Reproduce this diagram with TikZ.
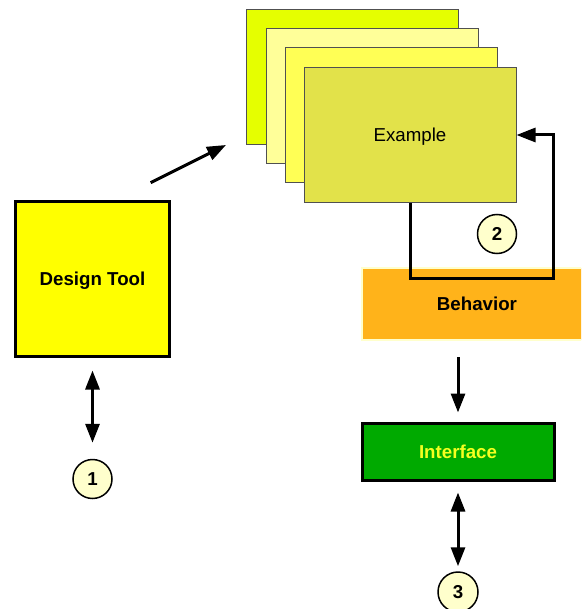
\documentclass[tikz,border=0pt]{standalone}
\usepackage{fontspec}
\setmainfont{Liberation Sans}
\usetikzlibrary{arrows.meta}

\definecolor{sheetA}{HTML}{E5FF00}
\definecolor{sheetB}{HTML}{FFFF99}
\definecolor{sheetC}{HTML}{FFFF55}
\definecolor{sheetD}{HTML}{E2E24A}
\definecolor{sheetline}{HTML}{505050}
\definecolor{toolfill}{HTML}{FFFF00}
\definecolor{behfill}{HTML}{FFB31A}
\definecolor{behline}{HTML}{FFFFCC}
\definecolor{ifcfill}{HTML}{00AA00}
\definecolor{ifctext}{HTML}{F4FF20}
\definecolor{markfill}{HTML}{FFFFCC}

\tikzset{
  lbl/.style={font=\fontsize{18.7}{22}\selectfont, text height=13.4pt, text depth=0pt},
  boldlbl/.style={lbl, font=\fontsize{18.7}{22}\selectfont\bfseries},
  sheet/.style={draw=sheetline, line width=1pt, minimum width=212pt, minimum height=135pt, inner sep=0pt, lbl},
  boldbox/.style={draw=black, line width=3pt, inner sep=0pt, boldlbl},
  marker/.style={circle, draw=black, line width=1.5pt, fill=markfill, inner sep=0pt, minimum size=39pt, boldlbl},
  tip/.style={Triangle[length=19pt,width=14pt]},
  conn/.style={line width=3pt, -{Triangle[length=19pt,width=14pt]}},
  biconn/.style={line width=3pt, {Triangle[length=19pt,width=14pt]}-{Triangle[length=19pt,width=14pt]}},
}

\begin{document}
\begin{tikzpicture}[x=1pt, y=-1pt]
\useasboundingbox (0,0) rectangle (581,609);
\clip (0,0) rectangle (581,609);

% stack of example sheets, back to front
\node[sheet, fill=sheetA] (s1) at (352,77.5) {};
\node[sheet, fill=sheetB] (s2) at (372,96.5) {};
\node[sheet, fill=sheetC] (s3) at (391,115.5) {};
\node[sheet, fill=sheetD] (s4) at (410,135) {Example};

% design tool
\node[boldbox, fill=toolfill, minimum width=154pt, minimum height=154pt] (dt) at (92.5,279) {Design Tool};

% behavior band (runs past the right edge)
\node[draw=behline, line width=2pt, fill=behfill, minimum width=233pt, minimum height=72pt, inner sep=0pt] (beh) at (478.5,304) {};
\node[boldlbl] (behtxt) at (477,304) {Behavior};

% interface
\node[boldbox, fill=ifcfill, text=ifctext, minimum width=192pt, minimum height=57pt] (ifc) at (458,451.5) {Interface};

% numbered markers
\node[marker] (c1) at (92.5,479) {1};
\node[marker] (c2) at (497,234) {2};
\node[marker, minimum size=40pt] (c3) at (458,592) {3};

% feedback loop from the example back into itself
\coordinate (loopcorner) at (553,278);
\draw[conn] (s4.south) |- (loopcorner) |- (s4.east);

% tool produces examples
\coordinate (a1) at (150.7,182.7);
\coordinate (a2) at (226,145);
\draw[conn] (a1) -- (a2);

% two-way links to the markers
\draw[biconn, shorten <=13pt, shorten >=16pt] (dt.south) -- (c1.north);
\draw[conn, shorten <=16pt, shorten >=9pt] (ifc.north |- beh.south) -- (ifc.north);
\draw[biconn, shorten <=11pt, shorten >=5pt] (ifc.south) -- (c3.north);
\end{tikzpicture}
\end{document}
